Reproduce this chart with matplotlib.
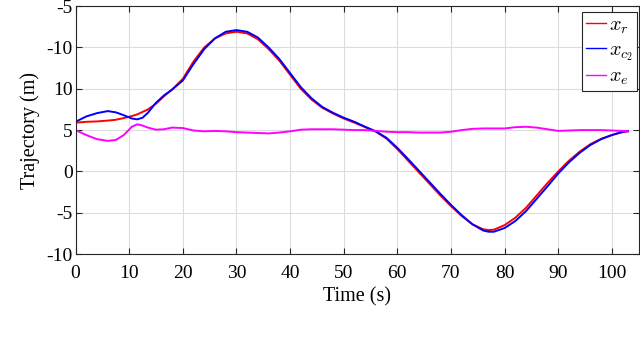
import matplotlib
matplotlib.use("Agg")
import matplotlib.pyplot as plt

plt.rcParams['font.family'] = ['Liberation Serif', 'DejaVu Serif']
plt.rcParams['mathtext.fontset'] = 'cm'

# time samples (s)
t = [0, 2, 4, 6, 7.5, 9, 10.5, 11.5, 12.5, 13.5, 15, 16.5, 18, 20, 22, 24, 26, 28, 30,
     32, 34, 36, 38, 40, 42, 44, 46, 48, 50, 52, 54, 56, 58, 60, 62, 64, 66, 68, 70,
     72, 74, 76, 77, 78, 80, 82, 84, 86, 88, 90, 92, 94, 96, 98, 100, 102, 103]

# reference trajectory x_r
x_r = [5.9, 6.0, 6.05, 6.15, 6.25, 6.45, 6.7, 6.9, 7.2, 7.5, 8.2, 9.1, 9.9, 11.2, 13.3,
       15.0, 16.1, 16.7, 16.9, 16.7, 16.0, 14.8, 13.4, 11.7, 10.0, 8.7, 7.7, 7.0, 6.4,
       5.9, 5.35, 4.8, 3.95, 2.7, 1.3, -0.1, -1.5, -2.9, -4.2, -5.4, -6.4, -7.0, -7.1,
       -7.05, -6.5, -5.6, -4.4, -2.9, -1.4, 0.0, 1.3, 2.4, 3.3, 3.95, 4.4, 4.75, 4.85]

# follower trajectory x_c2
x_c2 = [6.0, 6.65, 7.05, 7.3, 7.15, 6.8, 6.4, 6.3, 6.5, 7.1, 8.3, 9.2, 9.9, 11.0, 13.0,
        14.8, 16.1, 16.9, 17.1, 16.9, 16.2, 15.0, 13.6, 11.9, 10.2, 8.85, 7.8, 7.1, 6.5,
        6.0, 5.4, 4.85, 4.05, 2.85, 1.5, 0.1, -1.3, -2.7, -4.05, -5.3, -6.4, -7.15, -7.3,
        -7.3, -6.85, -6.0, -4.8, -3.3, -1.8, -0.25, 1.1, 2.25, 3.2, 3.9, 4.4, 4.8, 4.9]

# x_e
x_e = [5.0, 4.4, 3.9, 3.7, 3.8, 4.4, 5.4, 5.7, 5.55, 5.3, 5.05, 5.1, 5.3, 5.25, 4.95,
       4.85, 4.9, 4.85, 4.75, 4.7, 4.65, 4.6, 4.7, 4.85, 5.05, 5.1, 5.1, 5.1, 5.05,
       5.0, 5.0, 4.9, 4.8, 4.75, 4.75, 4.7, 4.7, 4.7, 4.8, 5.0, 5.15, 5.2, 5.2,
       5.2, 5.2, 5.35, 5.4, 5.3, 5.1, 4.9, 4.95, 5.0, 5.0, 5.0, 4.95, 4.9, 4.85]

xticks = [0, 10, 20, 30, 40, 50, 60, 70, 80, 90, 100]
yticks = [-10, -5, 0, 5, 10, 15, 20]
ytick_labels = ['-10', '-5', '0', '5', '10', '-10', '-5']  # as printed in the figure

fig = plt.figure(figsize=(6.4, 3.41), dpi=100)
ax = fig.add_axes([0.118, 0.255, 0.880, 0.727])

ax.plot(t, x_r, color='#ff0000', lw=1.4, label=r'$x_r$')
ax.plot(t, x_c2, color='#0000ff', lw=1.4, label=r'$x_{c_2}$')
ax.plot(t, x_e, color='#ff00ff', lw=1.4, label=r'$x_e$')

ax.set_xlim(0, 105)
ax.set_ylim(-10, 20)
ax.set_xticks(xticks)
ax.set_yticks(yticks)
ax.set_yticklabels(ytick_labels)
ax.tick_params(direction='in', top=True, right=True, labelsize=14, length=4,
               width=0.8, color='#262626')
ax.tick_params(axis='x', pad=8)
ax.tick_params(axis='y', pad=2)
ax.grid(True, color='#dcdcdc', lw=0.8)
ax.set_axisbelow(True)
for s in ax.spines.values():
    s.set_color('#262626')
    s.set_linewidth(0.8)

ax.set_xlabel('Time (s)', fontsize=14.5, labelpad=4)
ax.set_ylabel('Trajectory (m)', fontsize=14.5, labelpad=5)

leg = ax.legend(loc='upper right', bbox_to_anchor=(637 / 640, 1 - 12 / 341),
                bbox_transform=fig.transFigure, borderaxespad=0,
                fontsize=14.5, fancybox=False, framealpha=1,
                edgecolor='#262626', handlelength=1.0, handletextpad=0.15,
                borderpad=0.2, labelspacing=0.25)
leg.get_frame().set_linewidth(0.8)
for ln in leg.get_lines():
    ln.set_linewidth(1.0)

fig.savefig('out.png', dpi=100)
